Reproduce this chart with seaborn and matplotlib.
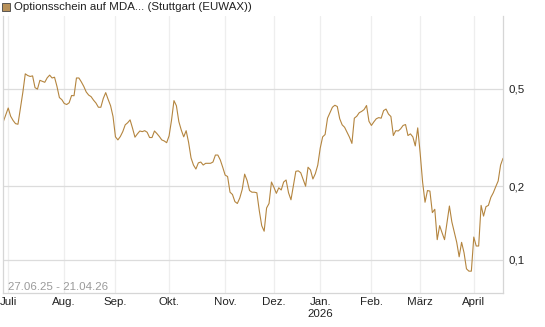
import matplotlib
matplotlib.use("Agg")
import matplotlib.pyplot as plt
from matplotlib.patches import Rectangle
from matplotlib.ticker import FixedLocator, NullLocator
import seaborn as sns
import numpy as np
import pandas as pd

# Kurse je Handelstag, nach Monaten
jun = [0.367, 0.391]
jul = [0.417, 0.386, 0.371, 0.360, 0.358, 0.416, 0.483, 0.575, 0.566, 0.561, 0.564, 0.505,
       0.498, 0.541, 0.536, 0.531, 0.554, 0.568, 0.553, 0.557, 0.511, 0.460, 0.451]
aug = [0.435, 0.431, 0.438, 0.469, 0.468, 0.553, 0.553, 0.533, 0.511, 0.485, 0.471, 0.464,
       0.449, 0.437, 0.420, 0.420, 0.456, 0.482, 0.452, 0.426, 0.385]
sep = [0.318, 0.309, 0.319, 0.334, 0.356, 0.363, 0.373, 0.345, 0.317, 0.327, 0.336, 0.334,
       0.337, 0.332, 0.316, 0.316, 0.336, 0.328, 0.319, 0.309, 0.306, 0.301]
okt = [0.321, 0.372, 0.447, 0.426, 0.367, 0.339, 0.318, 0.337, 0.302, 0.261, 0.244, 0.235,
       0.249, 0.251, 0.244, 0.248, 0.248, 0.248, 0.251, 0.268, 0.268, 0.256, 0.239]
nov = [0.222, 0.219, 0.189, 0.185, 0.173, 0.170, 0.179, 0.194, 0.224, 0.211, 0.192, 0.189,
       0.189, 0.188, 0.159, 0.138, 0.131, 0.163, 0.170, 0.208]
dez = [0.198, 0.187, 0.197, 0.193, 0.208, 0.212, 0.188, 0.176, 0.201, 0.230, 0.231, 0.227,
       0.213, 0.200, 0.239, 0.233, 0.214, 0.225, 0.244]
jan = [0.286, 0.318, 0.325, 0.379, 0.399, 0.420, 0.428, 0.423, 0.377, 0.356, 0.348, 0.332,
       0.317, 0.299, 0.379, 0.386, 0.399, 0.404, 0.411, 0.427, 0.368]
feb = [0.354, 0.366, 0.377, 0.381, 0.379, 0.407, 0.413, 0.394, 0.385, 0.322, 0.337, 0.336,
       0.343, 0.354, 0.357, 0.322, 0.327, 0.318, 0.292, 0.346]
mar = [0.273, 0.208, 0.172, 0.192, 0.191, 0.156, 0.161, 0.121, 0.138, 0.129, 0.121, 0.142,
       0.166, 0.143, 0.130, 0.118, 0.103, 0.118, 0.107, 0.092, 0.090, 0.090]
apr = [0.124, 0.114, 0.114, 0.167, 0.151, 0.165, 0.167, 0.180, 0.188, 0.199, 0.210, 0.244,
       0.260]

holidays = ["2025-12-24", "2025-12-25", "2025-12-26", "2025-12-31", "2026-01-01",
            "2026-04-03", "2026-04-06"]
month_labels = ["Juli", "Aug.", "Sep.", "Okt.", "Nov.", "Dez.", "Jan.\n2026", "Feb.", "März", "April"]
y_ticks = [0.1, 0.2, 0.5]
y_labels = ["0,1", "0,2", "0,5"]
title = "Optionsschein auf MDA... (Stuttgart (EUWAX))"
range_text = "27.06.25 - 21.04.26"

LINE = "#b4853f"

dates = pd.bdate_range("2025-06-27", "2026-04-21", freq="C", holidays=holidays)
prices = jun + jul + aug + sep + okt + nov + dez + jan + feb + mar + apr
df = pd.DataFrame({"datum": dates, "pos": np.arange(len(dates)), "kurs": prices})

month_starts = pd.date_range("2025-07-01", "2026-04-01", freq="MS")
month_pos = [int(dates.searchsorted(m)) for m in month_starts]

sns.set_style("white")
plt.rcParams["font.family"] = ["Liberation Sans", "DejaVu Sans"]

fig = plt.figure(figsize=(5.45, 3.27), dpi=100)
ax = fig.add_axes([0.005, 0.104, 0.918, 0.847])

sns.lineplot(data=df, x="pos", y="kurs", ax=ax, color=LINE, linewidth=0.8)

ax.set_yscale("log")
ax.set_ylim(0.0733, 0.99)
ax.set_xlim(-0.25, len(dates) - 1)

ax.yaxis.set_major_locator(FixedLocator(y_ticks))
ax.yaxis.set_minor_locator(NullLocator())
ax.set_yticklabels(y_labels)
ax.yaxis.tick_right()
ax.set_xticks(month_pos)
ax.set_xticklabels(month_labels)
ax.tick_params(axis="both", length=0, labelsize=8.25, colors="#222222")
ax.tick_params(axis="x", pad=3)
ax.tick_params(axis="y", pad=4)
ax.set_xlabel("")
ax.set_ylabel("")

ax.set_axisbelow(True)
ax.grid(axis="y", color="#dcdcdc", linewidth=0.9)
ax.grid(axis="x", color="#eeeeee", linewidth=0.9)
ax.spines["top"].set_visible(False)
for s in ["left", "right", "bottom"]:
    ax.spines[s].set_color("#d6d6d6")
    ax.spines[s].set_linewidth(0.9)

# Legende oben links
fig.add_artist(Rectangle((1.5 / 545, 1 - 11 / 327), 8.5 / 545, 8.5 / 327, transform=fig.transFigure,
                         facecolor="#b8915a", edgecolor="#444444", linewidth=0.6))
fig.text(13.5 / 545, 1 - 7 / 327, title, fontsize=8.25, color="#222222", va="center", ha="left")

fig.text(8 / 545, 1 - 287 / 327, range_text, fontsize=8.25, color="#9a9a9a", va="center", ha="left")

fig.savefig("out.png", dpi=100)
